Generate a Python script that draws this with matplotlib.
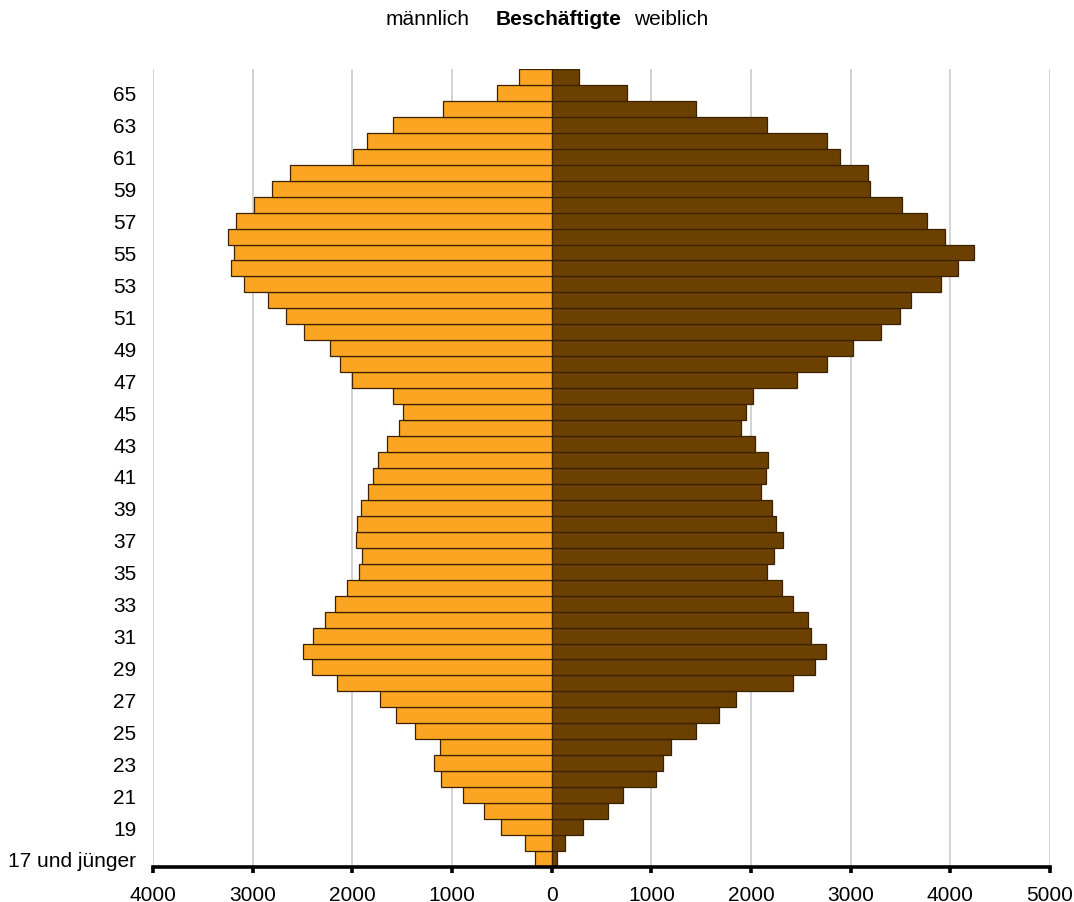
import numpy as np
import matplotlib
matplotlib.use("Agg")
import matplotlib.pyplot as plt

plt.rcParams['font.family'] = ['Liberation Sans', 'DejaVu Sans']

# === Data ===
ages = ["17 und jünger"] + [str(a) for a in range(18, 67)]
maennlich = [171, 271, 512, 682, 893, 1113, 1184, 1123, 1374, 1565,
             1725, 2156, 2407, 2497, 2397, 2277, 2176, 2056, 1936, 1906,
             1966, 1956, 1916, 1845, 1795, 1745, 1655, 1535, 1494, 1595,
             2006, 2126, 2227, 2487, 2668, 2849, 3089, 3220, 3190, 3250,
             3170, 2989, 2808, 2628, 1996, 1856, 1595, 1093, 552, 331]
weiblich = [55, 137, 311, 565, 719, 1051, 1112, 1198, 1451, 1677,
            1845, 2423, 2639, 2752, 2604, 2570, 2416, 2307, 2156, 2231,
            2324, 2252, 2207, 2098, 2146, 2170, 2040, 1903, 1951, 2019,
            2461, 2758, 3022, 3306, 3498, 3607, 3908, 4076, 4237, 3949,
            3761, 3515, 3193, 3176, 2892, 2762, 2163, 1448, 760, 274]
xticks = [-4000, -3000, -2000, -1000, 0, 1000, 2000, 3000, 4000, 5000]

# === Plot ===
fig = plt.figure(figsize=(10.74, 9.03), dpi=100)
ax = fig.add_axes([0.1425, 0.0388, 0.8352, 0.8837])

y = np.arange(len(ages))
ax.barh(y, -np.array(maennlich), height=1.0, color="#FCA523",
        edgecolor="#3a2200", linewidth=0.9)
ax.barh(y, weiblich, height=1.0, color="#6B4000",
        edgecolor="#3a2200", linewidth=0.9)

ax.set_xlim(-4000, 5000)
ax.set_ylim(-0.5, len(ages) - 0.5)

ax.set_xticks(xticks)
ax.set_xticklabels([str(abs(v)) for v in xticks], fontsize=15)
ax.set_yticks(y[::2])
ax.set_yticklabels(ages[::2], fontsize=15)

ax.set_axisbelow(True)
ax.grid(axis="x", color="#c8c8c8", linewidth=1.1)
ax.grid(axis="y", visible=False)

for s in ["top", "right", "left"]:
    ax.spines[s].set_visible(False)
ax.spines["bottom"].set_linewidth(2.6)
ax.spines["bottom"].set_color("black")
ax.tick_params(axis="x", direction="out", length=4, width=2.6, pad=9)
ax.tick_params(axis="y", length=0, pad=12)

# === Title ===
fig.text(386 / 1074, 1 - 25 / 903, "männlich", fontsize=15, va="baseline")
fig.text(496 / 1074, 1 - 25 / 903, "Beschäftigte", fontsize=15,
         fontweight="bold", va="baseline")
fig.text(634 / 1074, 1 - 25 / 903, "weiblich", fontsize=15, va="baseline")

fig.savefig("out.png", dpi=100)
